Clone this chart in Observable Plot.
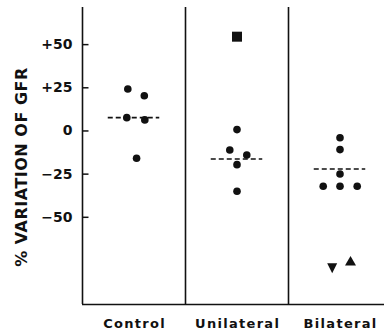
<!DOCTYPE html>
<html>
<head>
<meta charset="utf-8">
<script src="https://cdn.jsdelivr.net/npm/d3@7"></script>
<script src="https://cdn.jsdelivr.net/npm/@observablehq/plot@0.6"></script>
<style>
  html, body { margin: 0; padding: 0; background: #fff; }
  #chart svg { display: block; }
</style>
</head>
<body>
<div id="chart"></div>
<script>
// ---- data ----
const groups = ["Control", "Unilateral", "Bilateral"];

const controlValues = [24.3, 20.4, 7.7, 6.4, -15.8];
const controlJitter = [-0.06, 0.10, -0.07, 0.105, 0.025];
const controlShapes = ["circle", "circle", "circle", "circle", "circle"];

const unilateralValues = [54.6, 0.8, -11, -13.9, -19.5, -34.9];
const unilateralJitter = [0, 0, -0.07, 0.095, 0, 0];
const unilateralShapes = ["square", "circle", "circle", "circle", "circle", "circle"];

const bilateralValues = [-3.9, -10.8, -24.9, -32, -32, -32, -79.5, -75.2];
const bilateralJitter = [0, 0, 0, -0.163, 0, 0.167, -0.076, 0.102];
const bilateralShapes = ["circle", "circle", "circle", "circle", "circle", "circle", "triangleDown", "triangleUp"];

const meanValues = [7.7, -16.2, -22];

const yTicks = [50, 25, 0, -25, -50];
const yTickLabels = ["+50", "+25", "0", "\u221225", "\u221250"];
const yTitle = "% VARIATION OF GFR";
const yDomain = [-100.5, 71.5];

// ---- build table ----
const seriesValues = [controlValues, unilateralValues, bilateralValues];
const seriesJitter = [controlJitter, unilateralJitter, bilateralJitter];
const seriesShapes = [controlShapes, unilateralShapes, bilateralShapes];
const points = [];
seriesValues.forEach((vals, gi) => {
  vals.forEach((v, j) => {
    points.push({group: groups[gi], gi, value: v, pos: gi + 0.5 + seriesJitter[gi][j], shape: seriesShapes[gi][j]});
  });
});
const means = meanValues.map((v, i) => ({i, v}));

// custom symbols
const tickSymbol = {draw(ctx) { ctx.moveTo(0, 0); ctx.lineTo(6, 0); }};
const triUp = {draw(ctx) { ctx.moveTo(0, -4.8); ctx.lineTo(5.5, 4.7); ctx.lineTo(-5.5, 4.7); ctx.closePath(); }};
const triDown = {draw(ctx) { ctx.moveTo(0, 5); ctx.lineTo(5, -5); ctx.lineTo(-5, -5); ctx.closePath(); }};

const ink = "#111";
const chart = Plot.plot({
  width: 384,
  height: 332,
  marginLeft: 82,
  marginRight: 0,
  marginTop: 7,
  marginBottom: 28,
  x: {domain: [0, 3], range: [82, 391], axis: null},
  y: {domain: yDomain, range: [304, 7], axis: null},
  style: {fontFamily: "'DejaVu Sans', sans-serif", fontWeight: "bold", color: ink, background: "white"},
  marks: [
    // panel borders
    Plot.ruleX([0, 1, 2], {stroke: ink, strokeWidth: 1.6}),
    Plot.ruleY([yDomain[0]], {x1: 0, x2: 3, stroke: ink, strokeWidth: 1.6}),
    // y ticks (inward)
    Plot.dot(yTicks, {x: 0, y: d => d, symbol: tickSymbol, stroke: ink, fill: "none", strokeWidth: 1.5}),
    Plot.text(yTicks, {x: 0, y: d => d, text: (d, i) => yTickLabels[i], textAnchor: "end", dx: -10, fontSize: 14, fill: ink}),
    // y title
    Plot.text([yTitle], {frameAnchor: "left", textAnchor: "middle", dx: -61, dy: 11, rotate: -90, fontSize: 16, fill: ink}),
    // category labels
    Plot.text(groups, {x: (d, i) => i + 0.5, y: yDomain[0], dy: 19, dx: 0.6, text: d => d, fontSize: 13, fill: ink}),
    // mean lines
    Plot.ruleY(means, {y: "v", x1: d => d.i + 0.25, x2: d => d.i + 0.75, stroke: ink, strokeWidth: 1.6, strokeDasharray: "5,3"}),
    // points
    Plot.dot(points.filter(d => d.shape === "circle"), {x: "pos", y: "value", r: 3.8, fill: ink, stroke: "none"}),
    Plot.dot(points.filter(d => d.shape === "square"), {x: "pos", y: "value", symbol: "square", r: 5.64, fill: ink, stroke: "none"}),
    Plot.dot(points.filter(d => d.shape === "triangleUp"), {x: "pos", y: "value", symbol: triUp, fill: ink, stroke: "none"}),
    Plot.dot(points.filter(d => d.shape === "triangleDown"), {x: "pos", y: "value", symbol: triDown, fill: ink, stroke: "none"})
  ]
});
// letter spacing for the category labels and the title
d3.select(chart).selectAll("text")
  .filter(function () { return groups.includes(this.textContent); })
  .style("letter-spacing", "1.3px");
d3.select(chart).selectAll("text")
  .filter(function () { return this.textContent === yTitle; })
  .style("letter-spacing", "0.5px");
document.getElementById("chart").appendChild(chart);
</script>
</body>
</html>
